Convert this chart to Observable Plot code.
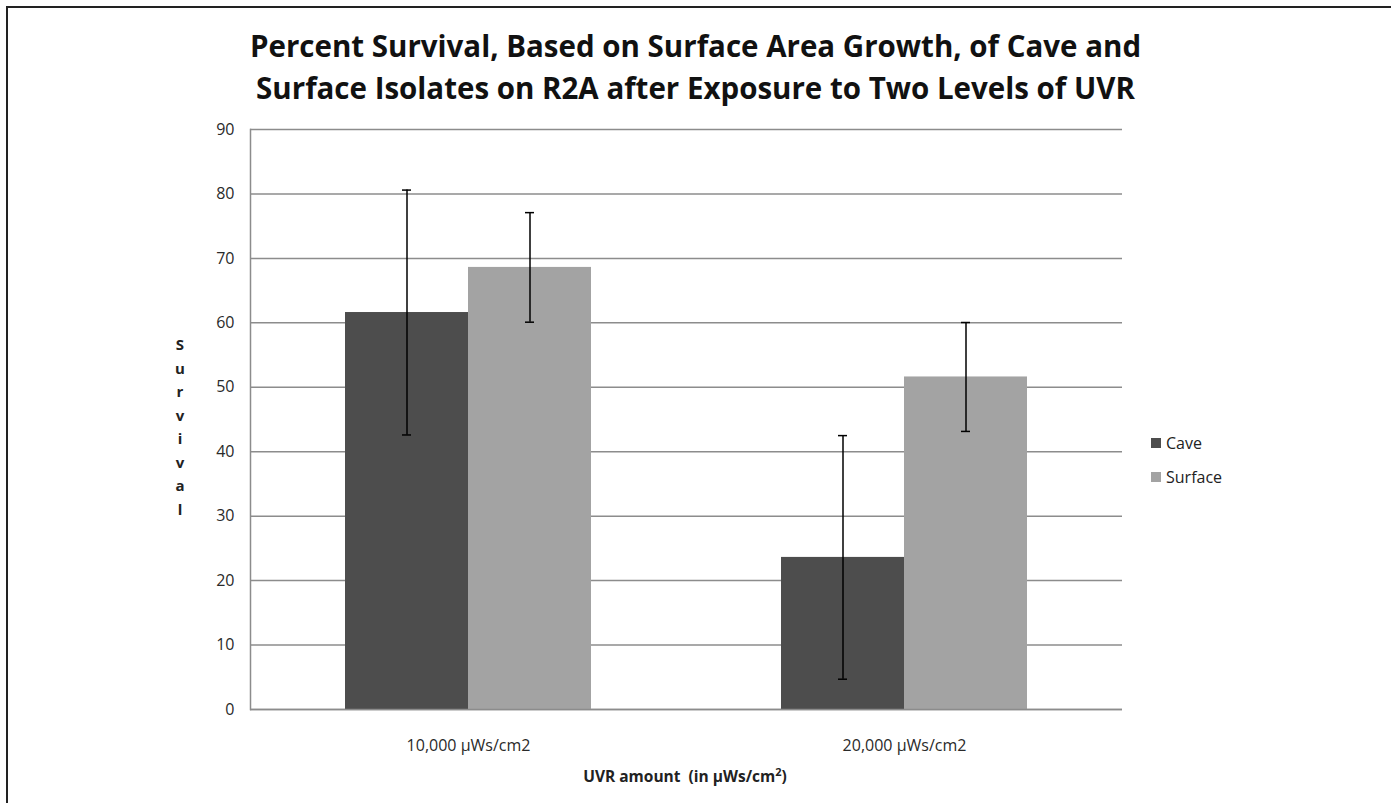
<!DOCTYPE html>
<html>
<head>
<meta charset="utf-8">
<script src="https://cdn.jsdelivr.net/npm/d3@7"></script>
<script src="https://cdn.jsdelivr.net/npm/@observablehq/plot@0.6"></script>
<style>
  body { margin: 0; background: #fff; font-family: "Open Sans", sans-serif; }
  #frame { position: absolute; left: 6px; top: 6px; width: 1385px; height: 797px;
           border-left: 2px solid #222; border-top: 2px solid #222; }
  #title { position: absolute; left: 0; top: 25px; width: 1391px; text-align: center;
           font-weight: bold; font-size: 29.5px; line-height: 42px; color: #111; letter-spacing: 0px; }
  #chart { position: absolute; left: 0; top: 110px; }
  #ylabel { position: absolute; left: 170px; top: 333px; width: 20px; text-align: center;
            font-weight: bold; font-size: 15px; line-height: 23.5px; color: #222; }
  #xlabel { position: absolute; left: 485px; top: 764px; width: 400px; text-align: center;
            font-weight: bold; font-size: 15.5px; color: #222; }
  #legend { position: absolute; left: 1151px; top: 426px; font-size: 16px; color: #222; }
  .item { display: flex; align-items: center; height: 34px; }
  .sw { width: 10px; height: 10px; margin-right: 5px; }
</style>
</head>
<body>
<div id="frame"></div>
<div id="title">Percent Survival, Based on Surface Area Growth, of Cave and<br>Surface Isolates on R2A after Exposure to Two Levels of UVR</div>
<div id="chart"></div>
<div id="ylabel"></div>
<div id="xlabel">UVR amount&nbsp; (in µWs/cm<sup style="font-size:11px">2</sup>)</div>
<div id="legend"></div>
<script>
const categories = ["10,000 µWs/cm2", "20,000 µWs/cm2"];
const series = ["Cave", "Surface"];
const caveValues = [61.6, 23.6];
const caveErrors = [19.0, 18.9];
const surfaceValues = [68.6, 51.6];
const surfaceErrors = [8.5, 8.45];
const yTicks = [0, 10, 20, 30, 40, 50, 60, 70, 80, 90];
const colors = ["#4d4d4d", "#a3a3a3"];
const yLabel = "Survival";

const values = [caveValues, surfaceValues];
const errors = [caveErrors, surfaceErrors];
const rows = categories.flatMap((c, i) => series.map((s, j) => ({
  uvr: c, series: s, value: values[j][i], err: errors[j][i]
})));

const grid = "#8c8c8c";
const chart = Plot.plot({
  width: 1391,
  height: 690,
  marginTop: 19,
  marginLeft: 249,
  marginRight: 269,
  marginBottom: 91,
  style: { fontSize: "16px", fontFamily: "Open Sans", color: "#2a2a2a", background: "transparent" },
  fx: { domain: categories, padding: 0, label: null, tickSize: 0, tickPadding: 30, axis: "bottom" },
  x: { domain: series, paddingInner: 0, paddingOuter: 0.767, axis: null },
  y: { domain: [0, 90], ticks: yTicks, tickSize: 0, tickPadding: 16, label: null },
  color: { domain: series, range: colors },
  marks: [
    Plot.gridY(yTicks, { stroke: grid, strokeOpacity: 1, strokeWidth: 1.5 }),
    Plot.barY(rows, { fx: "uvr", x: "series", y: "value", fill: "series" }),
    Plot.ruleX(rows, { fx: "uvr", x: "series", y1: d => d.value - d.err, y2: d => d.value + d.err, stroke: "#000", strokeWidth: 1.5 }),
    Plot.tickY(rows, { fx: "uvr", x: "series", y: d => d.value + d.err, insetLeft: 57, insetRight: 57, stroke: "#000", strokeWidth: 1.5 }),
    Plot.tickY(rows, { fx: "uvr", x: "series", y: d => d.value - d.err, insetLeft: 57, insetRight: 57, stroke: "#000", strokeWidth: 1.5 }),
    Plot.ruleY([0], { stroke: grid, strokeWidth: 1.5 }),
    Plot.frame({ anchor: "left", facetAnchor: "left", stroke: grid, strokeWidth: 1.5 })
  ]
});
document.getElementById("chart").appendChild(chart);

document.getElementById("ylabel").innerHTML = yLabel.split("").join("<br>");
document.getElementById("legend").innerHTML = series.map((s, i) =>
  `<div class="item"><div class="sw" style="background:${colors[i]}"></div>${s}</div>`).join("");
</script>
</body>
</html>
